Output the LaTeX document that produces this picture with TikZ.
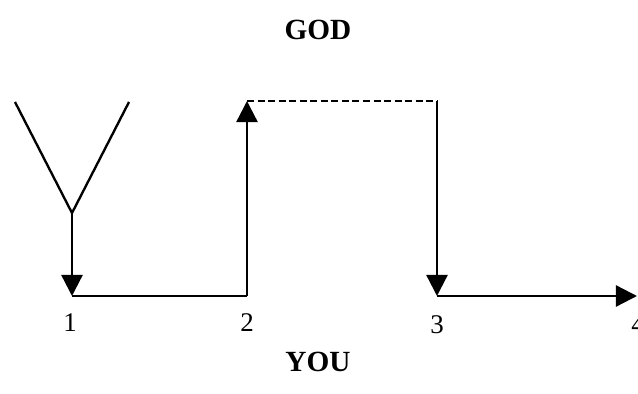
\documentclass[tikz,border=0pt]{standalone}
\usepackage{fontspec}
\setmainfont{Liberation Serif}
\usetikzlibrary{arrows.meta}

\begin{document}
\begin{tikzpicture}[x=0.03cm, y=-0.03cm, line cap=butt, line join=miter,
    >={Triangle[length=18pt, width=18pt]},
    path/.style={line width=2pt},
    num/.style={font=\fontsize{23}{25}\selectfont},
    title/.style={font=\fontsize{25}{27}\selectfont\bfseries}]
  \useasboundingbox (0,0) rectangle (638,394);

  % Corner points of the path
  \coordinate (L) at (15,102);
  \coordinate (R) at (129,102);
  \coordinate (F) at (72,213);
  \coordinate (P1) at (72,296);
  \coordinate (P2) at (247,296);
  \coordinate (T2) at (247,101);
  \coordinate (T3) at (437,101);
  \coordinate (P3) at (437,296);
  \coordinate (P4) at (637,296);

  % The fork
  \draw[path] (L) -- (F) -- (R);
  \draw[path,->] (F) -- (P1);

  % Along the bottom, up, across, down
  \draw[path] (P1) -- (P2);
  \draw[path,->] (P2) -- (T2);
  \draw[path,dash pattern=on 6pt off 3pt] (T2) -- (T3);
  \draw[path,->] (T3) -- (P3);
  \draw[path,->] (P3) -- (P4);

  % Labels
  \node[num] (n1) at (70,323) {1};
  \node[num] (n2) at (247,323) {2};
  \node[num] (n3) at (437,325) {3};
  \node[num] (n4) at (638,325) {4};
  \node[title] (god) at (318,30) {GOD};
  \node[title] (you) at (318,362) {YOU};
\end{tikzpicture}
\end{document}
